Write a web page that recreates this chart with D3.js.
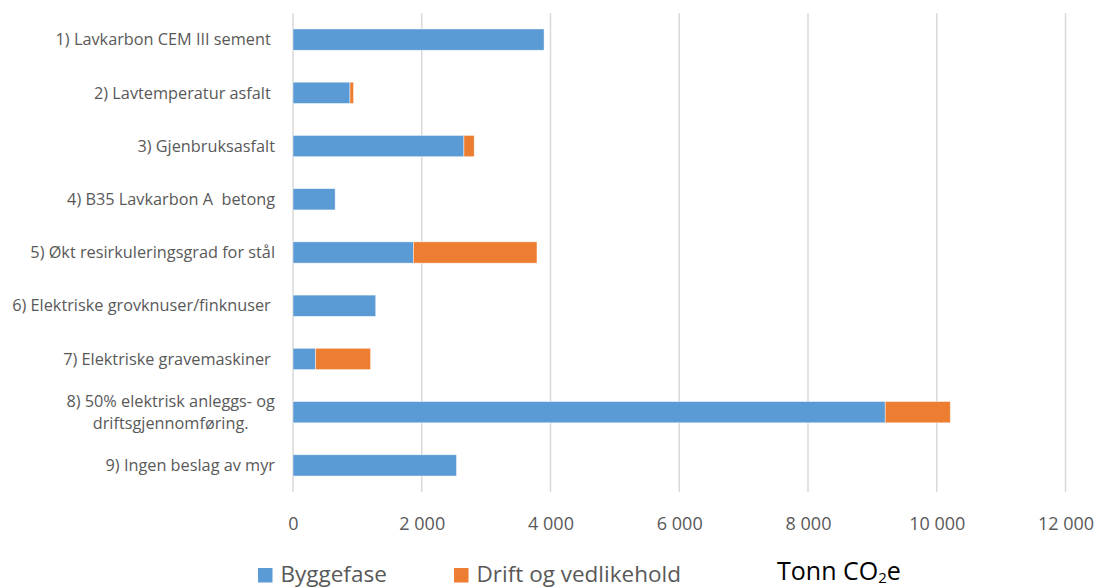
<!DOCTYPE html>
<html>
<head>
<meta charset="utf-8">
<script src="https://cdn.jsdelivr.net/npm/d3@7"></script>
<style>
  body { margin: 0; background: #fff; }
  svg text { font-family: "Open Sans", sans-serif; white-space: pre; }
</style>
</head>
<body>
<div id="chart"></div>
<script>
// categories (top to bottom), trailing spaces kept as in the original labels
const categories = [
  "1) Lavkarbon CEM III sement ",
  "2) Lavtemperatur asfalt ",
  "3) Gjenbruksasfalt",
  "4) B35 Lavkarbon A  betong",
  "5) Økt resirkuleringsgrad for stål",
  "6) Elektriske grovknuser/finknuser ",
  "7) Elektriske gravemaskiner ",
  "8) 50% elektrisk anleggs- og\ndriftsgjennomføring.",
  "9) Ingen beslag av myr"
];
const byggefase = [3900, 885, 2655, 655, 1870, 1285, 350, 9200, 2540];
const drift = [0, 55, 160, 0, 1920, 0, 855, 1010, 0];

const seriesNames = ["Byggefase", "Drift og vedlikehold"];
const seriesColors = ["#5B9BD5", "#ED7D31"];
const xTicks = [0, 2000, 4000, 6000, 8000, 10000, 12000];

const svgWidth = 1101;
const svgHeight = 588;

const margin = { top: 13, right: 35, bottom: 96, left: 293 };
const height = svgHeight - margin.top - margin.bottom;

const svg = d3.select("#chart")
  .append("svg")
  .attr("width", svgWidth)
  .attr("height", svgHeight);

const chartGroup = svg.append("g")
  .attr("transform", `translate(${margin.left}, ${margin.top})`);

const xScale = d3.scaleLinear()
  .domain([0, 12000])
  .range([0, 772.5]);

const yScale = d3.scaleBand()
  .domain(categories)
  .range([0, height])
  .paddingInner(0.6)
  .paddingOuter(0.3);

// vertical gridlines
chartGroup.append("g")
  .selectAll("line")
  .data(xTicks)
  .enter()
  .append("line")
  .attr("x1", d => xScale(d))
  .attr("x2", d => xScale(d))
  .attr("y1", 0)
  .attr("y2", height)
  .attr("stroke", "#d9d9d9")
  .attr("stroke-width", 1.5);

// stacked data
const rows = categories.map((c, i) => ({ cat: c, Byggefase: byggefase[i], "Drift og vedlikehold": drift[i] }));
const stacked = d3.stack().keys(seriesNames)(rows);

chartGroup.append("g")
  .selectAll("g")
  .data(stacked)
  .enter()
  .append("g")
  .attr("fill", (d, i) => seriesColors[i])
  .selectAll("rect")
  .data(d => d.filter(s => s[1] - s[0] > 0))
  .enter()
  .append("rect")
  .attr("x", d => xScale(d[0]))
  .attr("width", d => xScale(d[1]) - xScale(d[0]))
  .attr("y", d => yScale(d.data.cat))
  .attr("height", yScale.bandwidth())
  .attr("stroke", "#ffffff")
  .attr("stroke-opacity", 0.6)
  .attr("stroke-width", 0.75);

// x axis labels
const xAxis = d3.axisBottom(xScale)
  .tickValues(xTicks)
  .tickSize(0)
  .tickPadding(0)
  .tickFormat(d => d3.format(",")(d).replace(/,/g, " "));

const xAxisGroup = chartGroup.append("g")
  .attr("transform", `translate(0, ${height + 25})`)
  .call(xAxis);
xAxisGroup.select(".domain").remove();
xAxisGroup.selectAll("text")
  .attr("fill", "#595959")
  .style("font-size", "18px")
  .attr("dy", "0.7em");

// category labels
const labelRight = -18;
const labelGroup = chartGroup.append("g");
categories.forEach(c => {
  const lines = c.split("\n");
  const cy = yScale(c) + yScale.bandwidth() / 2;
  const lh = 22;
  const t = labelGroup.append("text")
    .attr("fill", "#595959")
    .style("font-size", "16.3px")
    .attr("text-anchor", lines.length > 1 ? "middle" : "end");
  if (lines.length === 1) {
    t.attr("x", labelRight).attr("y", cy).attr("dy", "0.35em").text(c);
  } else {
    lines.forEach((ln, j) => {
      t.append("tspan")
        .attr("x", 0)
        .attr("y", cy + (j - (lines.length - 1) / 2) * lh)
        .attr("dy", "0.35em")
        .text(ln);
    });
    const w = t.node().getBBox().width;
    t.selectAll("tspan").attr("x", labelRight - w / 2);
  }
});

// legend
const legend = svg.append("g");
const legendX = [258, 454];
seriesNames.forEach((name, i) => {
  legend.append("rect")
    .attr("x", legendX[i])
    .attr("y", 568)
    .attr("width", 14.5)
    .attr("height", 14.5)
    .attr("fill", seriesColors[i]);
  legend.append("text")
    .attr("x", legendX[i] + 22.5)
    .attr("y", 582)
    .attr("fill", "#595959")
    .style("font-size", "22.5px")
    .text(name);
});

const unit = legend.append("text")
  .attr("x", 777)
  .attr("y", 580)
  .attr("fill", "#000000")
  .style("font-size", "25px");
unit.append("tspan").text("Tonn CO");
unit.append("tspan").attr("dy", 3).style("font-size", "15px").text("2");
unit.append("tspan").attr("dy", -3).text("e");
</script>
</body>
</html>
